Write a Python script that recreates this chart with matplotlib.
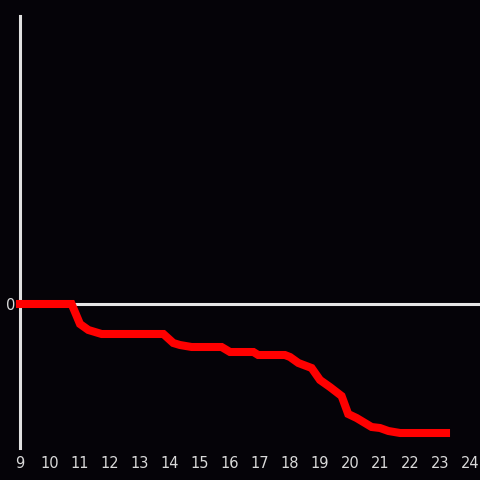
import matplotlib
matplotlib.use("Agg")
import matplotlib.pyplot as plt

# hour of day vs cumulative value (arbitrary units, zero line only labelled)
hours = [9.0, 10.72, 11.0, 11.28, 11.72, 13.78, 14.11, 14.33, 14.72, 15.72, 16.0,
         16.78, 16.94, 17.83, 18.0, 18.28, 18.72, 19.0, 19.33, 19.72, 19.94,
         20.22, 20.72, 21.0, 21.28, 21.67, 23.2]
values = [0.0, 0.0, -2.0, -2.6, -3.0, -3.0, -3.9, -4.1, -4.3, -4.3, -4.8,
          -4.8, -5.1, -5.1, -5.3, -5.9, -6.4, -7.6, -8.3, -9.2, -11.0,
          -11.4, -12.3, -12.4, -12.7, -12.9, -12.9]
xticks = list(range(9, 25))

bg = "#050308"
fig = plt.figure(figsize=(4.8, 4.8), dpi=100, facecolor=bg)
ax = fig.add_axes([20 / 480, 32 / 480, 460 / 480, 432 / 480])
ax.set_facecolor(bg)

ax.axhline(0, color="#e6e6e6", lw=2.2, zorder=2)
ax.plot(hours, values, color="#ff0000", lw=5.8, solid_capstyle="projecting",
        solid_joinstyle="miter", zorder=3, clip_on=False)

ax.set_xlim(9, 9 + 460 / 30)
ax.set_ylim(-14.4, 28.8)
ax.set_xticks(xticks)
ax.set_xticklabels([str(t) for t in xticks])
ax.set_yticks([0])
ax.set_yticklabels(["0"])
ax.tick_params(length=0, colors="#d9d9d9", labelsize=10.5)
ax.tick_params(axis="x", pad=6)
ax.tick_params(axis="y", pad=3)

for side in ["top", "right", "bottom"]:
    ax.spines[side].set_visible(False)
ax.spines["left"].set_color("#e0e0e0")
ax.spines["left"].set_linewidth(2.2)

fig.savefig("out.png", dpi=100, facecolor=bg)
